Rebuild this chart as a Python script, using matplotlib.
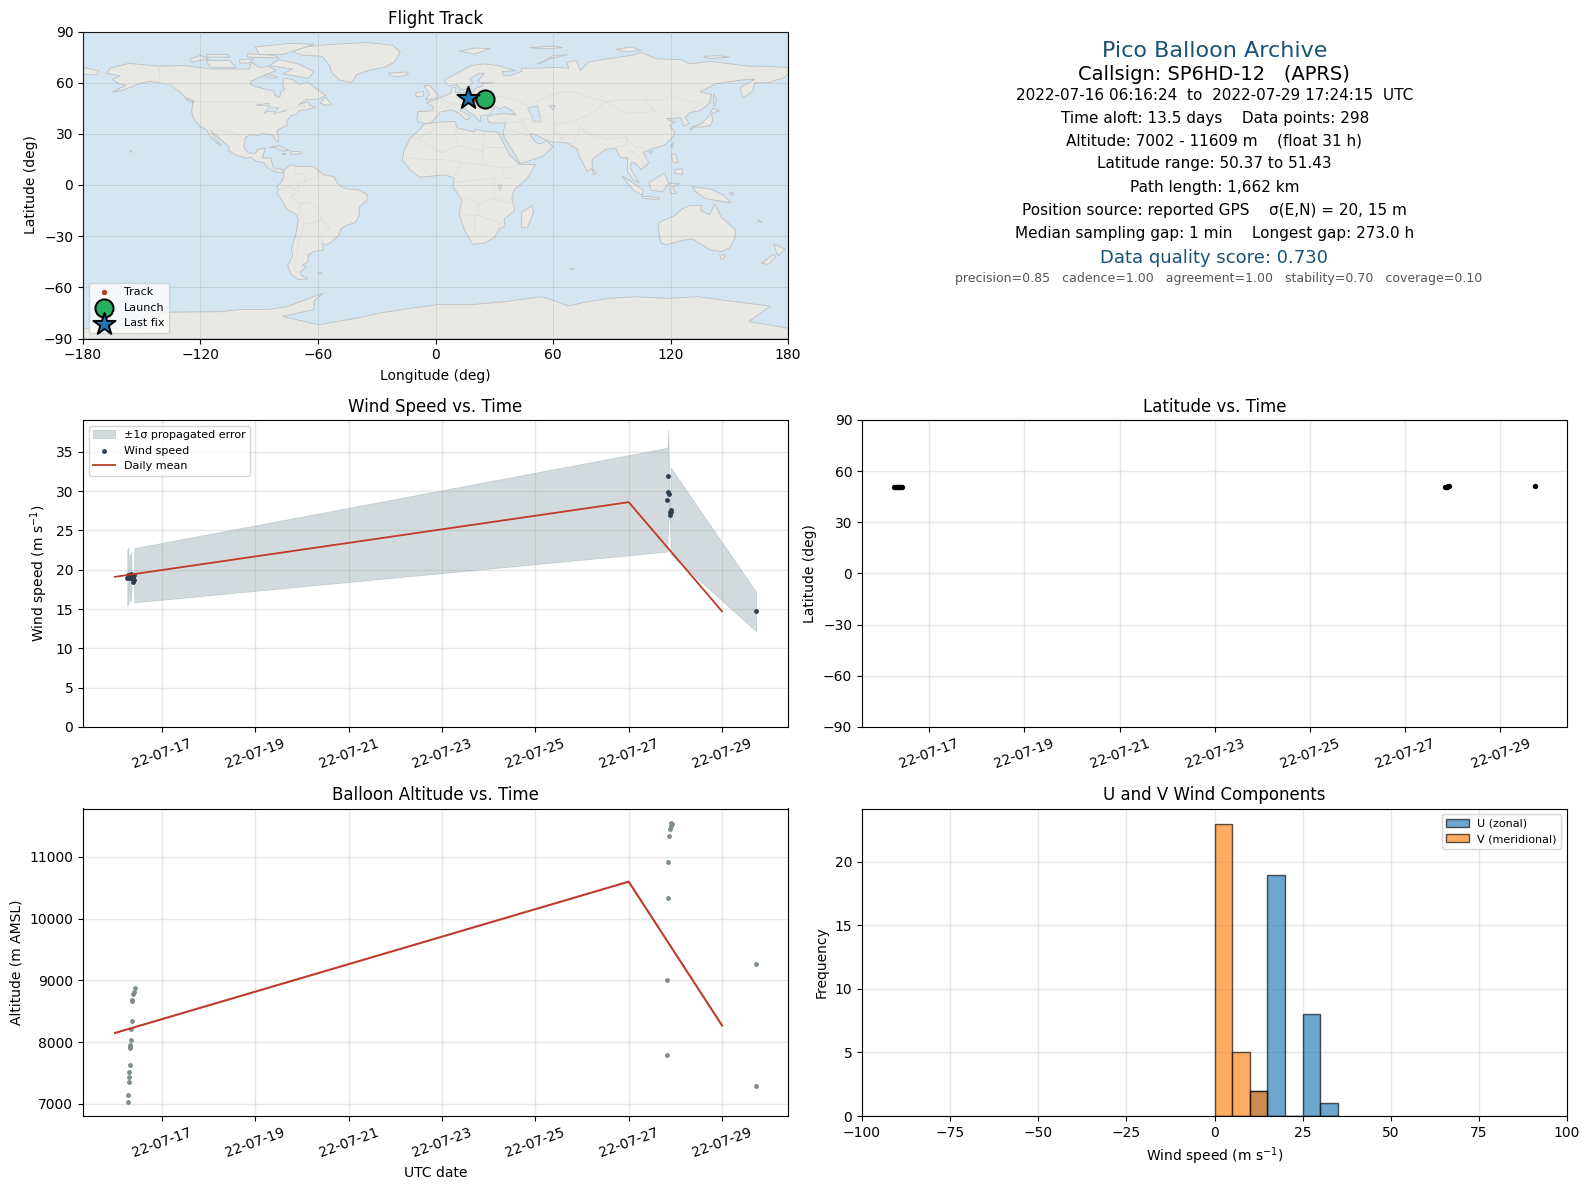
import datetime as dt

import matplotlib
matplotlib.use("Agg")
import matplotlib.dates as mdates
import matplotlib.pyplot as plt
import numpy as np

W, H = 1590, 1189
BASE = dt.datetime(2022, 7, 16)

# --- measurements, days counted from 2022-07-16 00:00
daily_day = [0, 11, 13]
daily_wind = [19.1, 28.6, 14.7]
daily_alt = [8150, 10600, 8270]

alt_day = [0.271, 0.272, 0.293, 0.293, 0.294, 0.314, 0.314, 0.315, 0.315, 0.336, 0.336,
           0.357, 0.357, 0.365, 0.380, 0.400, 0.421,
           11.83, 11.83, 11.85, 11.85, 11.87, 11.886, 11.90, 11.90, 11.92,
           13.725, 13.725]
alt_m = [7030, 7150, 7360, 7440, 7520, 7630, 7900, 7930, 7960, 8040, 8215,
         8350, 8670, 8690, 8785, 8815, 8885,
         7795, 9005, 10335, 10915, 11340, 11450, 11500, 11550, 11535,
         7290, 9265]

wind_day = [0.262, 0.285, 0.298, 0.31, 0.33, 0.345, 0.355, 0.365, 0.375, 0.385, 0.395, 0.405, 0.415,
            11.82, 11.835, 11.85, 11.865, 11.875, 11.885, 11.90, 11.91,
            13.725]
wind_ms = [19.0, 19.3, 19.1, 19.0, 18.9, 19.4, 19.2, 18.9, 19.2, 19.0, 18.5, 18.7, 19.3,
           28.9, 29.85, 31.9, 29.7, 27.0, 27.4, 27.6, 27.4,
           14.7]
wind_err = [3.6, 3.5, 0.2, 2.9, 2.9, 2.9, 0.2, 0.2, 0.2, 0.2, 0.2, 0.2, 3.45,
            6.6, 5.9, 5.85, 1.0, 0.6, 0.7, 5.4, 5.5,
            2.5]

lat_day = [0.261, 0.28, 0.30, 0.32, 0.34, 0.36, 0.38, 0.40, 0.42,
           11.83, 11.85, 11.87, 11.89, 11.92, 13.725]
lat_deg = [50.5, 50.5, 50.5, 50.5, 50.5, 50.5, 50.5, 50.5, 50.5,
           50.7, 50.8, 51.0, 51.1, 51.3, 51.4]

bin_edges = [0, 5, 10, 15, 20, 25, 30, 35]
u_counts = [0, 0, 2, 19, 0, 8, 1]
v_counts = [23, 5, 2, 0, 0, 0, 0]

track_lon = [19.5, 20.5, 22.0]
track_lat = [50.6, 50.5, 50.4]
launch = (25.2, 50.4)
last_fix = (16.4, 51.0)

date_ticks = [1, 3, 5, 7, 9, 11, 13]

info_lines = [
    ("Pico Balloon Archive", 16, "#1a5276", 50.7, 0.7),
    ("Callsign: SP6HD-12   (APRS)", 14, "black", 73, 0),
    ("2022-07-16 06:16:24  to  2022-07-29 17:24:15  UTC", 11, "black", 93.7, 0.7),
    ("Time aloft: 13.5 days    Data points: 298", 11, "black", 116.7, 0.7),
    ("Altitude: 7002 - 11609 m    (float 31 h)", 11, "black", 139, 0.2),
    ("Latitude range: 50.37 to 51.43", 11, "black", 161.7, 0.7),
    ("Path length: 1,662 km", 11, "black", 184.7, 0.7),
    ("Position source: reported GPS    σ(E,N) = 20, 15 m", 11, "black", 207.7, 0.3),
    ("Median sampling gap: 1 min    Longest gap: 273.0 h", 11, "black", 230.2, 0.7),
    ("Data quality score: 0.730", 13, "#1a5276", 254.2, 0.3),
    ("precision=0.85   cadence=1.00   agreement=1.00   stability=0.70   coverage=0.10", 9, "#555555", 274.7, 4.5),
]

# --- coastlines (lon, lat)
north_america = [(-168,65.5),(-166,68.5),(-156.5,71.3),(-141,69.7),(-128,70),(-115,68),(-108,68),(-95,68),(-94,72),(-90,69),
    (-85,69.5),(-81.5,67),(-87,64.5),(-94,61),(-94.5,58.8),(-88,56.5),(-82.5,55),(-82,52.5),(-79.5,51.3),(-79,54.5),
    (-77,56),(-78,59),(-77.5,62.5),(-73,62),(-69.5,59),(-65,60.3),(-61,56.5),(-56,52.5),(-60,50.2),(-66,50.2),(-70,47),
    (-65,49),(-64.5,47),(-61,45.5),(-66,44),(-70,43.5),(-70.5,41.7),(-74,40.5),(-76,37),(-75.7,35.2),(-78,33.8),(-81,32),
    (-80,27),(-80.5,25.2),(-82,27),(-83,29.2),(-85,29.7),(-89,30.2),(-90,29),(-94,29.5),(-97,28),(-97.5,25),(-97.8,22),
    (-95.5,18.8),(-92,18.6),(-90.5,21),(-87,21.5),(-88,17),(-88.5,15.8),(-84,15.8),(-83.3,12),(-82.5,9.2),(-79.5,9.5),
    (-77.4,8.7),(-78,7.3),(-80.5,7.4),(-83,8.2),(-85.5,10),(-87.5,13),(-91.5,14),(-94.5,16.2),(-97,15.8),(-101.5,17.5),
    (-105.5,20),(-105.5,22.5),(-109,26),(-112.5,29.5),(-114.7,31.5),(-112,26.5),(-109.5,23),(-112,25),(-115,28.5),
    (-117,32.5),(-120.5,34.5),(-124,40),(-124.5,43),(-124,48),(-123,49),(-128,51.5),(-131,55),(-135,58.5),(-140,59.8),
    (-146,60.8),(-151,59.5),(-154,58),(-160,55.5),(-165,54.5),(-158,58.5),(-162,59.5),(-165,62),(-161,64)]
south_america = [(-77.4,8.7),(-75,11),(-72,12),(-71.5,10.8),(-68,11),(-62,10.7),(-60,8.5),(-57,6),(-52,5),(-50,1),(-48,-1),
    (-44,-2.5),(-39,-3),(-35,-5.5),(-35,-9),(-39,-13),(-39,-18),(-41,-22),(-46,-24),(-48.5,-26),(-49,-29),(-53,-33.5),
    (-56,-35),(-58,-34),(-57,-38),(-62,-39),(-65,-41),(-65,-45),(-68,-47),(-66,-48),(-69,-51),(-68.5,-53),(-65,-55),
    (-70,-55.5),(-74,-52),(-75.5,-47),(-73,-42),(-73.5,-37),(-71.5,-30),(-70,-20),(-71,-17.5),(-76,-14),(-79,-8),(-81,-5),
    (-80,-2.5),(-81,-1),(-79,1.5),(-77.5,4),(-77.5,7)]
eurasia = [(-9,37),(-9.5,38.7),(-9,43),(-1.5,43.5),(-1,46),(-4.7,48.3),(1.5,50.5),(4,52),(8,54),(8.5,57),(10.5,57.5),(10,54.5),
    (14,54),(19,54.5),(21,57),(24,58),(24,59.5),(30,60),(23,60),(21.5,61),(25,65.5),(22,65.5),(17.5,62),(19,60),(16.5,57),
    (14,55.5),(12.5,56),(11,59),(7,58),(5,60),(5,62),(12,66),(18,70),(25,71),(32,70),(41,67),(34,66.5),(35,64),(38,64),
    (40,65),(44,66.5),(44,68.5),(54,68.5),(60,69),(68,68.5),(67,72),(72,73),(74,67),(78,72),(85,73.5),(100,76),(105,77.7),
    (113,74),(125,73.5),(130,71),(140,72.5),(160,69.7),(170,69.5),(180,68.9),(180,65),(178,63),(170,60),(163,60),(162,55),
    (157,51),(155.5,57),(163,62),(156,61.5),(143,59.3),(135,54.5),(141,53),(140,48),(135,43.5),(130,42.5),(127.5,39.5),
    (129.5,36),(126.5,34.5),(126,37.5),(125,39.5),(121,39),(118,39),(120,37.5),(122.5,37),(119.5,35),(122,31),(121.5,28.5),
    (117,23.5),(110,21),(106,19),(109,13),(105,9),(102.5,12.5),(100,13.5),(99.5,9.5),(104,1.5),(101,3),(98,8),(98,16),
    (94.5,16),(92,21.5),(87,21),(80,15),(80,10),(77.5,8),(73,18),(72.5,21),(67,24.8),(61,25),(57,26),(50,30),(48,30),(51,25),
    (54,24),(56.5,26),(60,22.5),(55,17),(45,13),(43,13),(39,21),(35,28),(34.5,31),(36,36.5),(30,36.3),(27,37),(26.5,40),
    (29,41),(35,42),(41,41),(38,44.5),(35,46),(33,44.5),(30.5,46),(28,42),(26,40.8),(23,40.5),(23,37),(19.5,41),(13.5,45.5),
    (12.5,44),(18,40),(16,38),(12,42),(8.5,44),(3,43),(0,39.5),(-2,36.7),(-5.5,36)]
africa = [(-5.5,35.8),(3,37),(10,37.3),(11,33.5),(20,31),(20,32.8),(25,31.5),(32,31),(32.5,30),(35,24),(37.5,18),(43,12),(51,12),
    (47,4),(40,-3),(39,-8),(40.5,-15),(35,-20),(35.5,-24),(32.5,-26),(30,-31),(25,-34),(19,-34.8),(15,-27),(12,-17),(13.5,-9),
    (9,-1),(9.5,4),(5,6),(-4,5),(-8,4.5),(-13,9),(-17,14.7),(-16,20),(-13,27.5),(-9.5,31)]
australia = [(114,-22),(122,-18),(126,-14),(130,-12),(136,-12),(135.5,-15),(140,-17.5),(142.5,-11),(146,-19),(153,-26),(153,-31),
    (150,-37),(146,-39),(140,-38),(136,-35),(131,-31.5),(124,-33),(118,-35),(115,-34),(114,-27)]
antarctica = [(-180,-84),(-150,-84),(-150,-77),(-135,-74.5),(-110,-74.3),(-100,-73),(-85,-73),(-75,-71),(-68,-68),(-57.5,-63.5),
    (-62,-68),(-62,-73),(-78,-77),(-60,-82),(-40,-78),(-28,-75),(-11,-72),(2,-70),(20,-70),(35,-68.5),(54,-65.5),(60,-67.5),
    (68,-71),(75,-69),(88,-66.5),(102,-65.5),(118,-66.5),(134,-65.5),(150,-68),(171,-71),(165,-76),(160,-80),(180,-84),
    (180,-90),(-180,-90)]
greenland = [(-73,78.2),(-66,81),(-55,82.3),(-35,83.6),(-22,82),(-18,78),(-21,72),(-26,69),(-33,67.5),(-40,65),(-43,60),(-49,61.5),
    (-53,66),(-54,70),(-58,75.5),(-68,76)]
islands = [
    [(-180,68.9),(-172,67),(-173,64.5),(-180,65)],
    [(-80,73.5),(-70,71),(-62,66.5),(-65,62.5),(-72,64),(-78,65),(-73,68),(-85,70)],
    [(-117,73),(-105,73),(-102,69),(-115,69)],
    [(-90,76.5),(-78,76.5),(-62,82.5),(-75,83),(-92,81)],
    [(-125,72),(-116,74),(-120,76),(-125,74)],
    [(-96,75),(-80,74.5),(-82,76),(-96,77)],
    [(-117,75),(-105,75),(-106,76.5),(-117,76.5)],
    [(-100,73.5),(-93,74),(-95,71.5),(-100,71.5)],
    [(-87,65),(-81,63.5),(-82,62.5),(-87,63.5)],
    [(-59,48),(-56,51.5),(-53,47),(-56,46.8)],
    [(-128,50.5),(-125,50),(-123.5,48.4),(-125.5,49)],
    [(-85,22),(-80,23),(-74.5,20.2),(-78,20),(-82,22)],
    [(-74,19.8),(-69,19.5),(-68.5,18.3),(-74,18)],
    [(-78.3,18.4),(-76.3,18.2),(-77,17.8)],
    [(-156,20.2),(-155,19.8),(-155.7,19)],
    [(-60,-51.5),(-58,-51.5),(-59,-52.3)],
    [(-6,58.5),(-3,58.5),(1.5,52.5),(1,51),(-5,50),(-3,53.5)],
    [(-10,54),(-6,55),(-6,52.2),(-10,51.7)],
    [(-24,65.5),(-15,66.3),(-13.7,65),(-19,63.4),(-23,64)],
    [(12,78.5),(20,80.3),(28,80),(20,76.8)],
    [(52,71),(58,74),(68,76.5),(60,75.8),(55,72)],
    [(48,80.5),(60,81.5),(65,80.5),(55,79.8)],
    [(92,79.5),(100,81),(105,79),(98,78)],
    [(137,75.5),(145,75.8),(150,75),(140,74)],
    [(44,-16),(49.5,-12),(50,-16),(47,-25),(44,-25)],
    [(142,53.5),(143.5,50),(142.5,46),(142,49)],
    [(140,41),(141.5,45),(145,43.5),(141,42),(141.5,38),(140.5,35),(136,34),(132,34),(130,32),(131,34),(136,36)],
    [(80,9.5),(82,7),(80.5,6)],
    [(95,5.5),(100,2),(106,-3),(105.5,-6),(101,-3)],
    [(105.5,-6.5),(114.5,-7.5),(114,-8.7),(106,-7.8)],
    [(109,1.5),(117,7),(119,1),(116,-4),(110,-3)],
    [(119.5,1),(125,1),(121,-1),(123,-5),(120,-5)],
    [(131,-1),(141,-2.5),(147,-6),(151,-10.5),(143,-9),(138,-8),(133,-4)],
    [(120.5,18.5),(122.5,18),(124,13),(121,13.7)],
    [(122,9),(126,9.5),(126,6),(122,7)],
    [(120,23),(121.7,25),(120.8,22)],
    [(109,20),(111,19.8),(109.5,18.2)],
    [(145,-41),(148,-41),(147,-43.5),(146,-43.5)],
    [(172.7,-34.5),(178.5,-37.7),(175,-41.5),(174,-39)],
    [(172.5,-40.7),(174,-41.8),(170,-46.5),(166.5,-46)],
    [(165,-20.5),(167,-22),(164.5,-21)],
    [(150,-5),(152,-4.2),(152,-6)],
    [(68.5,-49),(70.5,-49),(69.5,-49.7)],
]
water = [
    [(47,45),(52,46.5),(53,42),(54,37),(50,37),(49,41)],
    [(-92,46.8),(-85,48),(-85,46.5)],
    [(-87.5,42),(-85,46),(-80,45),(-82,43),(-86,43)],
    [(-83,42),(-76,43.7),(-79,42.8)],
    [(32,0),(34,0),(33,-3)],
    [(58,46.5),(61,46.5),(60,44)],
]
borders = [
    [(-123,49),(-95,49),(-89,48),(-83,46),(-82.5,42),(-79,43),(-75,45),(-70,46),(-67,47),(-67,45)],
    [(-141,69.7),(-141,60),(-135,58.5),(-130,55)],
    [(-117,32.5),(-108,31.5),(-106,31.7),(-101,29.5),(-97.5,26)],
    [(-70,-18),(-69,-11),(-74,-7),(-70,-4),(-70,1),(-67,2),(-60,5),(-60,8)],
    [(-58,-20),(-60,-14),(-65,-10),(-69,-11)],
    [(-69,-18),(-67,-23),(-70,-33),(-72,-50),(-69,-52)],
    [(-58,-34),(-58,-27),(-54,-26),(-58,-20)],
    [(-67,-23),(-62,-22),(-58,-20)],
    [(-80,-3),(-75,-1),(-70,-4)],
    [(-72,12),(-72,7),(-67,6),(-67,2)],
    [(-13,27.5),(-8.7,27.5),(-1,32),(-2,35)],
    [(-8.7,27),(3,19),(12,23),(10,30),(11,33)],
    [(12,23),(24,20),(25,31.5)],
    [(24,22),(37,22)],
    [(-16,16),(-5,15),(3,15),(14,13),(24,12),(24,20)],
    [(14,13),(9,4.5)],
    [(24,12),(34,10),(42,11)],
    [(34,10),(35,4),(41,4)],
    [(30,4),(13,2),(9,2)],
    [(30,4),(30,-8),(22,-11),(12,-6)],
    [(30,-8),(40,-11)],
    [(22,-11),(22,-18),(12,-17)],
    [(20,-18),(20,-28),(17,-29)],
    [(22,-18),(33,-22),(32,-26)],
    [(28,56),(32,52),(40,50),(48,46),(55,51),(62,54),(70,55),(80,51),(87,49),(98,50),(107,50),(117,50),(120,53),(127,50),(135,48),(131,43)],
    [(80,42),(74,39),(70,37),(61,36),(61,31),(66,29),(62,25)],
    [(55,41),(53,37),(45,39),(44,37),(48,30)],
    [(36,32),(39,32),(47,29)],
    [(44,37),(36,36.5)],
    [(74,34),(78,30),(88,27),(97,28),(98,24),(92,22)],
    [(74,34),(71,25),(68,24)],
    [(80,42),(87,49)],
    [(107,50),(112,43),(97,42),(87,49)],
    [(97,28),(102,22),(107,22)],
    [(100,20),(105,15),(107,11)],
    [(2,51),(6,49.5),(7.5,47.5),(13,47.5),(17,48.5),(23,48),(28,46)],
    [(14,54),(15,51),(24,50),(23,54)],
    [(24,50),(32,52)],
    [(-2,43.3),(3,42.5)],
    [(-9,42),(-7,37)],
]

OCEAN = "#d3e5f1"
LAND = "#e8e8e4"
COAST = "#bcc0c2"
RED = "#c0392b"


def pixel_axes(fig, x0, y0, x1, y1):
    return fig.add_axes([x0 / W, 1 - y1 / H, (x1 - x0) / W, (y1 - y0) / H])


def to_dates(days):
    return mdates.date2num(BASE) + np.asarray(days, dtype=float)


def style_time(ax):
    ax.xaxis_date()
    ax.set_xticks(to_dates(date_ticks))
    ax.xaxis.set_major_formatter(mdates.DateFormatter("%y-%m-%d"))
    ax.tick_params(axis="x", labelrotation=20)
    ax.grid(True, color="#b0b0b0", alpha=0.3, lw=1)
    ax.set_axisbelow(True)


fig = plt.figure(figsize=(W / 100, H / 100), dpi=100)

# flight track
ax = pixel_axes(fig, 83, 31.5, 788, 338.5)
ax.set_facecolor(OCEAN)
for poly in [north_america, south_america, eurasia, africa, australia, antarctica, greenland] + islands:
    xs, ys = zip(*poly)
    ax.fill(xs, ys, facecolor=LAND, edgecolor=COAST, lw=0.6, zorder=1)
for poly in water:
    xs, ys = zip(*poly)
    ax.fill(xs, ys, facecolor=OCEAN, edgecolor=COAST, lw=0.5, zorder=1.2)
for line in borders:
    xs, ys = zip(*line)
    ax.plot(xs, ys, color="#dddedb", lw=0.6, zorder=1.3)
ax.grid(True, color="#888888", alpha=0.2, lw=0.7, zorder=2)
ax.set_axisbelow(False)
ax.scatter(track_lon, track_lat, s=8, color=RED, zorder=3, label="Track")
ax.scatter(*launch, s=170, color="#27ae60", edgecolor="black", lw=1.4, zorder=4, label="Launch")
ax.scatter(*last_fix, s=280, marker="*", color="#1f77b4", edgecolor="black", lw=1.4, zorder=5, label="Last fix")
ax.set_xlim(-180, 180)
ax.set_ylim(-90, 90)
ax.set_xticks(range(-180, 181, 60))
ax.set_yticks(range(-90, 91, 30))
ax.set_xlabel("Longitude (deg)", labelpad=5)
ax.set_ylabel("Latitude (deg)")
ax.set_title("Flight Track", fontsize=12, pad=5.7)
ax.legend(loc="lower left", fontsize=8)

# summary text
for txt, size, col, y, dx in info_lines:
    fig.text((1214 + dx) / W, 1 - y * 1.014 / H, txt, fontsize=size, color=col, ha="center", va="center")

# wind speed
ax = pixel_axes(fig, 83, 420, 788, 727)
wd = to_dates(wind_day)
ws = np.array(wind_ms)
we = np.array(wind_err)
ax.fill_between(wd, ws - we, ws + we, color="#8a9ca3", alpha=0.37, lw=0.6, label="±1σ propagated error")
ax.scatter(wd, ws, s=6, color="#2c3e50", zorder=3, label="Wind speed")
ax.plot(to_dates(daily_day), daily_wind, color=RED, lw=1.3, zorder=4, label="Daily mean")
style_time(ax)
ax.set_ylim(0, 39.05)
ax.set_yticks(range(0, 36, 5))
ax.set_ylabel("Wind speed (m s$^{-1}$)")
ax.set_title("Wind Speed vs. Time", fontsize=12)
ax.legend(loc="upper left", fontsize=8)

# latitude
ax = pixel_axes(fig, 862, 420, 1567, 727)
ax.scatter(to_dates(lat_day), lat_deg, s=8, color="black", zorder=3)
style_time(ax)
ax.set_ylim(-90, 90)
ax.set_yticks(range(-90, 91, 30))
ax.set_ylabel("Latitude (deg)")
ax.set_title("Latitude vs. Time", fontsize=12)

# altitude
ax = pixel_axes(fig, 83, 808.5, 788, 1116)
ax.scatter(to_dates(alt_day), alt_m, s=6, color="#7f8c8d", zorder=3)
ax.plot(to_dates(daily_day), daily_alt, color=RED, lw=1.5, zorder=4)
style_time(ax)
ax.set_ylim(6805, 11785)
ax.set_yticks(range(7000, 11001, 1000))
ax.set_xlabel("UTC date")
ax.set_ylabel("Altitude (m AMSL)")
ax.set_title("Balloon Altitude vs. Time", fontsize=12)

# wind components
ax = pixel_axes(fig, 862, 808.5, 1567, 1116)
centers = (np.array(bin_edges[:-1]) + np.array(bin_edges[1:])) / 2
ax.hist(centers, bins=bin_edges, weights=u_counts, color="#1f77b4", alpha=0.65, edgecolor="black", label="U (zonal)")
ax.hist(centers, bins=bin_edges, weights=v_counts, color="#ff7f0e", alpha=0.65, edgecolor="black", label="V (meridional)")
ax.grid(True, color="#b0b0b0", alpha=0.3, lw=1)
ax.set_axisbelow(True)
ax.set_xlim(-100, 100)
ax.set_ylim(0, 24.2)
ax.set_xticks(range(-100, 101, 25))
ax.set_yticks(range(0, 21, 5))
ax.set_xlabel("Wind speed (m s$^{-1}$)")
ax.set_ylabel("Frequency")
ax.set_title("U and V Wind Components", fontsize=12)
ax.legend(loc="upper right", fontsize=8)

fig.savefig("out.png", dpi=100)
